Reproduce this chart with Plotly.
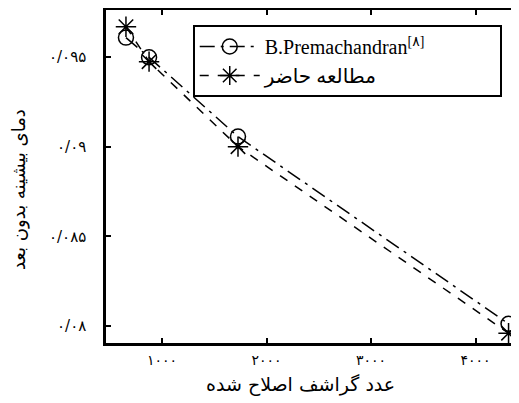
import plotly.graph_objects as go

# Modified Grashof number vs dimensionless max temperature
grashof = [655, 876, 1727, 4316]
premachandran = [0.09608, 0.09498, 0.09056, 0.08012]
present_study = [0.09669, 0.09474, 0.09000, 0.07960]

x_tickvals = [1000, 2000, 3000, 4000]
x_ticktext = ["۱۰۰۰", "۲۰۰۰", "۳۰۰۰", "۴۰۰۰"]
y_tickvals = [0.08, 0.085, 0.09, 0.095]
y_ticktext = ["۰/۰۸", "۰/۰۸۵", "۰/۰۹", "۰/۰۹۵"]

x_label = "عدد گراشف اصلاح شده"
y_label = "دمای بیشینه بدون بعد"

FONT = "Liberation Serif, DejaVu Serif, DejaVu Sans"
FA_FONT = "DejaVu Sans"

# trailing no-break spaces widen the legend box like the original
pad = "\u00a0" * 14

fig = go.Figure()

fig.add_trace(go.Scatter(
    x=grashof, y=premachandran,
    mode="lines+markers",
    name="B.Premachandran<sup>[۸]</sup>" + pad,
    line=dict(color="black", width=1.5, dash="longdashdot"),
    marker=dict(symbol="circle-open", size=15, color="black",
                line=dict(width=1.5)),
    cliponaxis=False,
))

fig.add_trace(go.Scatter(
    x=grashof, y=present_study,
    mode="lines+markers",
    name="مطالعه حاضر",
    line=dict(color="black", width=1.5, dash="dash"),
    marker=dict(symbol="asterisk-open", size=17, color="black",
                line=dict(width=1.5, color="black")),
    cliponaxis=False,
))

# axis titles as annotations so they sit where the original has them
fig.add_annotation(text=x_label, xref="paper", yref="paper",
                   x=0.472, y=-0.125, xanchor="center", yanchor="middle",
                   showarrow=False,
                   font=dict(size=19, family=FA_FONT, color="black"))
fig.add_annotation(text=y_label, xref="paper", yref="paper",
                   x=-0.21, y=0.46, xanchor="center", yanchor="middle",
                   textangle=-90, showarrow=False,
                   font=dict(size=18, family=FA_FONT, color="black"))

# page body has an 8px margin, so the figure is a bit smaller than the window
fig.update_layout(
    width=511, height=395,
    margin=dict(l=98, r=0, t=2, b=60, autoexpand=False),
    paper_bgcolor="white",
    plot_bgcolor="white",
    font=dict(family=FONT, color="black", size=14),
    showlegend=True,
    legend=dict(
        x=0.21, y=0.955, xanchor="left", yanchor="top",
        bordercolor="black", borderwidth=2,
        bgcolor="white",
        font=dict(size=20, family=FONT, color="black"),
        itemwidth=60,
        tracegroupgap=0,
    ),
    xaxis=dict(
        range=[464, 4416],
        tickvals=x_tickvals, ticktext=x_ticktext,
        ticks="inside", ticklen=5, tickwidth=2, tickcolor="black",
        showline=True, linewidth=2.5, linecolor="black",
        mirror="ticks", showgrid=False, zeroline=False,
        automargin=False,
        ticklabelstandoff=2,
        tickfont=dict(size=14, family=FA_FONT, color="black"),
    ),
    yaxis=dict(
        range=[0.07905, 0.09762],
        tickvals=y_tickvals, ticktext=y_ticktext,
        ticks="inside", ticklen=5, tickwidth=2, tickcolor="black",
        showline=True, linewidth=2.5, linecolor="black",
        showgrid=False, zeroline=False,
        automargin=False,
        ticklabelstandoff=14,
        tickfont=dict(size=15, family=FA_FONT, color="black"),
    ),
)

fig.write_html("out.html")
